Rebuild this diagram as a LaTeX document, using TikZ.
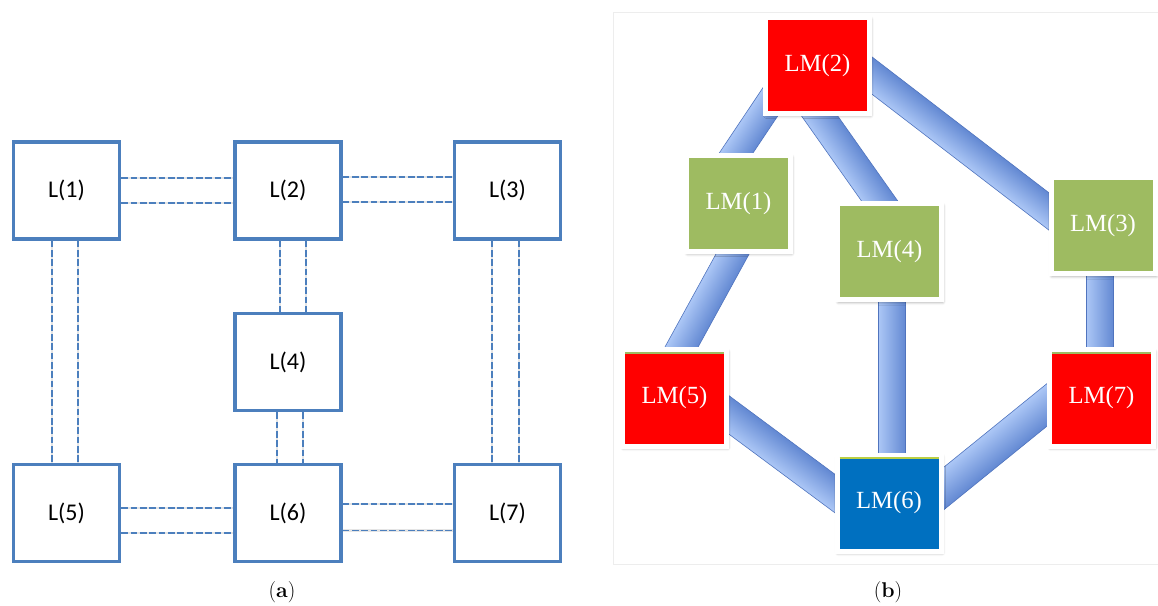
\documentclass[tikz,border=0pt]{standalone}
\usepackage{fontspec}
\newfontfamily\calib{Carlito}
\newfontfamily\tms{Liberation Serif}
\usetikzlibrary{calc,shadows.blur,backgrounds}

\definecolor{lblue}{RGB}{76,127,189}
\definecolor{lmred}{RGB}{255,0,0}
\definecolor{lmgreen}{RGB}{158,187,97}
\definecolor{lmblue}{RGB}{0,112,192}
\definecolor{barlight}{RGB}{172,199,246}
\definecolor{bardark}{RGB}{98,136,210}
\definecolor{baredgec}{RGB}{80,116,190}

\tikzset{
  lbox/.style={draw=lblue, line width=2.6pt, fill=white, inner sep=0pt,
    minimum width=79.5pt, minimum height=72.75pt,
    font=\calib\fontsize{18}{21}\selectfont},
  dline/.style={draw=lblue, line width=0.9pt, dash pattern=on 5pt off 2pt,
    preaction={draw=black!10, solid, line width=2.2pt}},
  lmbox/.style={draw=white, line width=3.75pt, inner sep=0pt,
    minimum width=78pt, minimum height=72pt, text=white,
    font=\tms\fontsize{18.5}{21}\selectfont,
    blur shadow={shadow xshift=0.8pt, shadow yshift=-1.4pt,
      shadow blur radius=2.4pt, shadow opacity=45}},
  baredge/.style={draw=baredgec, line width=0.45pt},
  topline/.style={draw=#1, line width=0.8pt},
  captext/.style={font=\fontsize{16}{19}\selectfont}
}

\newcommand\lmbar[3]{%
  \path let \p1=($(#2)-(#1)$) in \pgfextra{%
     \pgfmathsetmacro\barang{atan2(\y1,\x1)}%
     \pgfmathsetmacro\barlen{veclen(\x1,\y1)}%
     \global\let\barang\barang \global\let\barlen\barlen};
  \begin{scope}[transform canvas={shift={(#1)},rotate=\barang}]
    \shade[top color=barlight, bottom color=bardark] (0pt,-#3) rectangle (\barlen pt,#3);
    \draw[baredge] (0pt,-#3) -- (\barlen pt,-#3) (0pt,#3) -- (\barlen pt,#3);
  \end{scope}}

\begin{document}
\begin{tikzpicture}[x=0.75pt,y=-0.75pt]
\useasboundingbox (0,0) rectangle (1158,606);

% ---------------- (a) ----------------
\node[lbox] (L1) at (66.5,190.5) {L(1)};
\node[lbox] (L2) at (288,190.5) {L(2)};
\node[lbox] (L3) at (507.5,190.5) {L(3)};
\node[lbox] (L4) at (288,362) {L(4)};
\node[lbox] (L5) at (66.5,513) {L(5)};
\node[lbox] (L6) at (288,513) {L(6)};
\node[lbox] (L7) at (507.5,513) {L(7)};

% horizontal double dashed links
\draw[dline] ($(L1.east)+(0,-12.5)$) -- ($(L2.west)+(0,-12.5)$);
\draw[dline] ($(L1.east)+(0,12.5)$)  -- ($(L2.west)+(0,12.5)$);
\draw[dline] ($(L2.east)+(0,-13.5)$) -- ($(L3.west)+(0,-13.5)$);
\draw[dline] ($(L2.east)+(0,11.5)$)  -- ($(L3.west)+(0,11.5)$);
\draw[dline] ($(L5.east)+(0,-5)$)    -- ($(L6.west)+(0,-5)$);
\draw[dline] ($(L5.east)+(0,20)$)    -- ($(L6.west)+(0,20)$);
\draw[dline] ($(L6.east)+(0,-9)$)    -- ($(L7.west)+(0,-9)$);
\draw[dline] ($(L6.east)+(0,17.5)$)  -- ($(L7.west)+(0,17.5)$);
% vertical double dashed links
\draw[dline] ($(L1.south)+(-14.5,0)$) -- ($(L5.north)+(-14.5,0)$);
\draw[dline] ($(L1.south)+(11.5,0)$)  -- ($(L5.north)+(11.5,0)$);
\draw[dline] ($(L2.south)+(-8,0)$)    -- ($(L4.north)+(-8,0)$);
\draw[dline] ($(L2.south)+(18,0)$)    -- ($(L4.north)+(18,0)$);
\draw[dline] ($(L4.south)+(-11,0)$)   -- ($(L6.north)+(-11,0)$);
\draw[dline] ($(L4.south)+(15,0)$)    -- ($(L6.north)+(15,0)$);
\draw[dline] ($(L3.south)+(-15.5,0)$) -- ($(L7.north)+(-15.5,0)$);
\draw[dline] ($(L3.south)+(11.5,0)$)  -- ($(L7.north)+(11.5,0)$);

\node[captext] (capa) at (282,592) {(\textbf{a})};

% ---------------- (b) ----------------
\node[lmbox, fill=lmred]   (LM2) at (817.5,65.5) {LM(2)};
\node[lmbox, fill=lmgreen] (LM1) at (738.5,203.5) {LM(1)};
\node[lmbox, fill=lmgreen] (LM4) at (889.5,252) {LM(4)};
\node[lmbox, fill=lmgreen] (LM3) at (1103,226) {LM(3)};
\node[lmbox, fill=lmred]   (LM5) at (674.5,398) {LM(5)};
\node[lmbox, fill=lmred]   (LM7) at (1101.5,398) {LM(7)};
\node[lmbox, fill=lmblue]  (LM6) at (889,503) {LM(6)};

\draw[topline=lmgreen] ([shift={(5,5.5)}]LM5.north west) -- ([shift={(-5,5.5)}]LM5.north east);
\draw[topline=lmgreen] ([shift={(5,5.5)}]LM7.north west) -- ([shift={(-5,5.5)}]LM7.north east);
\draw[topline=lmgreen!70!yellow] ([shift={(5,5.5)}]LM6.north west) -- ([shift={(-5,5.5)}]LM6.north east);

\coordinate (a1) at (702,204);  \coordinate (a2) at (795,65);
\coordinate (b1) at (653,399);  \coordinate (b2) at (760,204);
\coordinate (c1) at (910,244);  \coordinate (c2) at (790,74);
\coordinate (d1) at (1090,243); \coordinate (d2) at (840,51);
\coordinate (e1) at (892,503);  \coordinate (e2) at (892,252);
\coordinate (f1) at (1100,398); \coordinate (f2) at (1100,226);
\coordinate (g1) at (880,527);  \coordinate (g2) at (690,386);
\coordinate (h1) at (900,524);  \coordinate (h2) at (1090,370);

\begin{scope}[on background layer]
  \draw[black!7, line width=0.6pt] (1158,12) -- (613,12) -- (613,564) -- (1158,564);
  \lmbar{a1}{a2}{10.5pt}
  \lmbar{b1}{b2}{10.9pt}
  \lmbar{c1}{c2}{11.1pt}
  \lmbar{d1}{d2}{11.1pt}
  \lmbar{e1}{e2}{10.3pt}
  \lmbar{f1}{f2}{10.3pt}
  \lmbar{g1}{g2}{11.6pt}
  \lmbar{h1}{h2}{12.4pt}
\end{scope}

\node[captext] (capb) at (888,592) {(\textbf{b})};
\end{tikzpicture}
\end{document}
